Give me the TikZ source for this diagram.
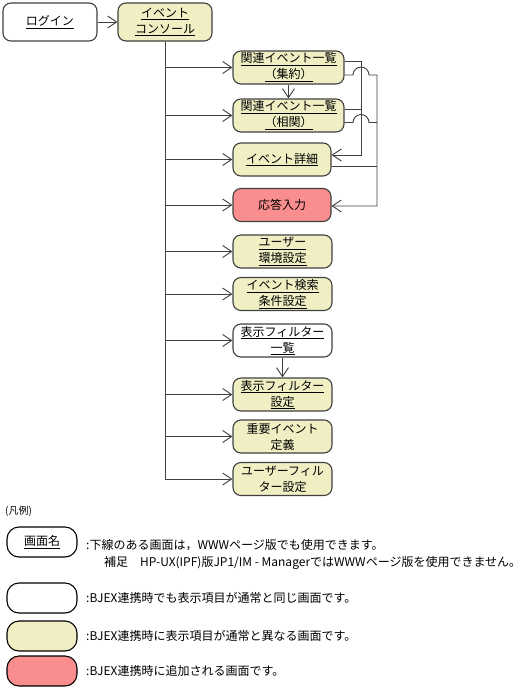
\documentclass[tikz,border=0pt]{standalone}
\usepackage{fontspec}
\setmainfont{Noto Sans CJK JP}
\usepackage{tikz}
\usetikzlibrary{arrows.meta,calc}
\definecolor{scrYellow}{RGB}{240,239,196}
\definecolor{scrRed}   {RGB}{250,142,142}
\definecolor{lineGray} {RGB}{64, 64, 64}

\begin{document}
\begin{tikzpicture}[x=1pt,y=1pt,
    scrBox/.style={draw=lineGray,line width=1.1pt,rounded corners=8pt,align=center,
      font=\fontsize{12}{16}\selectfont,inner sep=1pt,minimum height=33pt,minimum width=99pt},
    scrYel/.style={scrBox,fill=scrYellow},
    scrNew/.style={scrBox,fill=scrRed},
    conn/.style={draw=lineGray,line width=0.9pt},
    arr/.style={conn,-{Straight Barb[length=9pt,width=12pt]}},
    legBox/.style={draw=black,line width=1.1pt,rounded corners=12pt,minimum width=70pt,
      minimum height=30pt,font=\fontsize{12}{14}\selectfont,inner sep=1pt},
    legText/.style={anchor=west,inner sep=0pt,font=\fontsize{12}{14}\selectfont}]

    \useasboundingbox (0,0) rectangle (524,-689);

    % telas principais
    \node[scrBox,minimum width=94pt,minimum height=38pt] (login) at (50,-22) {\underline{ログイン}};
    \node[scrYel,minimum width=94pt,minimum height=38pt] (console) at (165,-22)
      {\underline{イベント}\\\underline{コンソール}};
    \node[scrYel,minimum width=111pt] (rel1) at (288.5,-67.5)
      {\underline{関連イベント一覧}\\\underline{（集約）}};
    \node[scrYel,minimum width=111pt] (rel2) at (288.5,-115.5)
      {\underline{関連イベント一覧}\\\underline{（相関）}};
    \node[scrYel,minimum width=98pt] (detail) at (282,-159.5) {\underline{イベント詳細}};
    \node[scrNew,minimum width=98pt] (resp) at (282,-205) {応答入力};
    \node[scrYel] (userenv) at (282.5,-251.5) {\underline{ユーザー}\\\underline{環境設定}};
    \node[scrYel] (evsearch) at (282.5,-294) {\underline{イベント検索}\\\underline{条件設定}};
    \node[scrBox,fill=white] (flist) at (282.5,-340.5) {\underline{表示フィルター}\\\underline{一覧}};
    \node[scrYel] (fset) at (282.5,-394.5) {\underline{表示フィルター}\\\underline{設定}};
    \node[scrYel] (sev) at (282.5,-436.5) {重要イベント\\定義};
    \node[scrYel] (ufilt) at (282.5,-479) {ユーザーフィル\\ター設定};

    % ligacoes a partir da console
    \draw[arr] (login) -- (console);
    \draw[conn] (console.south) -- (console.south |- ufilt.west);
    \foreach \n in {rel1,rel2,detail,resp,userenv,evsearch,flist,fset,sev,ufilt}{
      \draw[arr] (console.south |- \n.west) -- (\n.west);
    }
    \draw[arr] (rel1) -- (rel2);
    \draw[arr] (flist) -- (fset);

    % barramentos a direita
    \coordinate (busA) at (361,0);
    \coordinate (busB) at (377,0);
    \coordinate (a1) at ([yshift=6.5pt]rel1.east);
    \coordinate (a2) at ([yshift=6.5pt]rel2.east);
    \coordinate (b1) at ([yshift=-7.5pt]rel1.east);
    \coordinate (b2) at ([yshift=-7pt]rel2.east);
    \coordinate (inDetail) at ($(detail.east)+(0,4.5)$);
    \coordinate (outDetail) at ($(detail.east)+(0,-6.5)$);
    \coordinate (inResp) at ($(resp.east)+(0,-1)$);

    \draw[arr] (a1) -| (busA |- inDetail) -- (inDetail);
    \draw[conn] (a2) -- (a2 -| busA);
    \draw[arr] (b1) -- ($(b1 -| busA)+(-8,0)$) arc[start angle=180,end angle=0,radius=8pt]
      -- (b1 -| busB) |- (inResp);
    \draw[conn] (b2) -- ($(b2 -| busA)+(-8,0)$) arc[start angle=180,end angle=0,radius=8pt]
      -- (b2 -| busB);
    \draw[conn] (outDetail) -- (outDetail -| busB);

    % legenda
    \node[anchor=west,inner sep=0pt,font=\fontsize{10}{12}\selectfont] (legTitle) at (5,-511) {(凡例)};
    \node[legBox] (legName) at (42,-542) {\underline{画面名}};
    \node[legBox,fill=white] (legWhite) at (42,-598) {};
    \node[legBox,fill=scrYellow] (legYel) at (42,-636) {};
    \node[legBox,fill=scrRed] (legRed) at (42,-671) {};
    \node[legText] (legNameTxt) at (86,-545) {:下線のある画面は，WWWページ版でも使用できます。};
    \node[legText] (legNote) at (104,-563)
      {補足　HP-UX(IPF)版JP1/IM - ManagerではWWWページ版を使用できません。};
    \node[legText] (legWhiteTxt) at (86,-598) {:BJEX連携時でも表示項目が通常と同じ画面です。};
    \node[legText] (legYelTxt) at (86,-636) {:BJEX連携時に表示項目が通常と異なる画面です。};
    \node[legText] (legRedTxt) at (86,-671) {:BJEX連携時に追加される画面です。};

  \end{tikzpicture}
\end{document}
